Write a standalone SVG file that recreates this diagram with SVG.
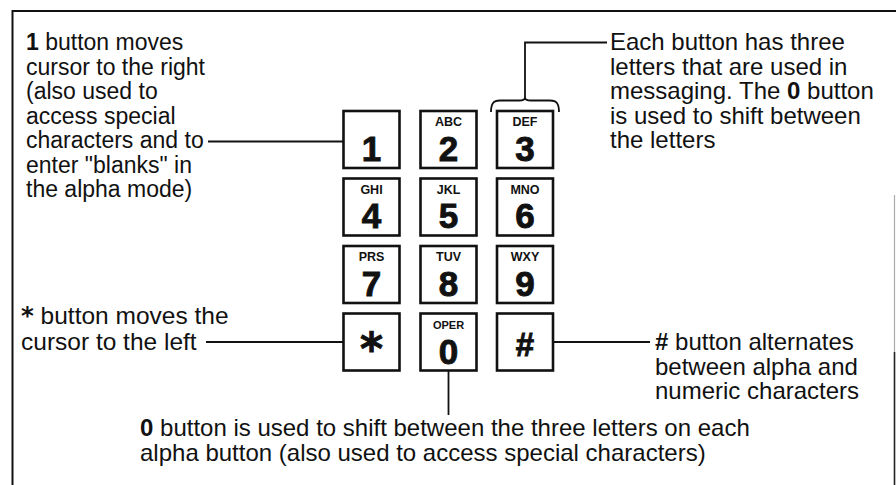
<svg xmlns="http://www.w3.org/2000/svg" width="896" height="485" viewBox="0 0 896 485">
<style>
.t{font-family:"Liberation Sans",Arial,sans-serif;font-size:24px;fill:#111}
.tl{font-size:23px}
.ts{font-size:24.5px}
.b{font-weight:bold}
.st{font-family:"DejaVu Sans",sans-serif;font-weight:bold}
.lt{font-family:"Liberation Sans",Arial,sans-serif;font-size:12.5px;font-weight:bold;fill:#111;text-anchor:middle}
.dg{font-family:"Liberation Sans",Arial,sans-serif;font-size:35px;font-weight:bold;fill:#111;stroke:#111;stroke-width:0.9;text-anchor:middle}
.key{fill:#fff;stroke:#111;stroke-width:2.6}
.c{fill:none;stroke:#111;stroke-width:1.8}
.bd{fill:none;stroke:#111;stroke-width:2}
</style>
<rect width="896" height="485" fill="#fff"/>
<g id="border">
<path class="bd" d="M12.5,485 V11 H896"/>
<path d="M894.5,195 V352" stroke="#aaa" stroke-width="1.2" fill="none"/>
<path d="M894.5,352 V485" stroke="#222" stroke-width="1.6" fill="none"/>
</g>
<g id="connectors">
<path class="c" d="M208,141.5 H343"/>
<path class="c" d="M607,42.5 H525 V98"/>
<path class="c" d="M491,112 C491,104 493,100.5 500,100.5 H519 C523,100.5 525,99.5 525,97.5 C525,99.5 527,100.5 531,100.5 H550 C557,100.5 559,104 559,112"/>
<path class="c" d="M206,342 H343"/>
<path class="c" d="M554,342 H650"/>
<path class="c" d="M448.5,371 V415"/>
</g>
<g id="note-1">
<text class="t tl" x="26" y="50"><tspan class="b">1</tspan> button moves</text>
<text class="t tl" x="26" y="74.5">cursor to the right</text>
<text class="t tl" x="26" y="99">(also used to</text>
<text class="t tl" x="26" y="123.5">access special</text>
<text class="t tl" x="26" y="148">characters and to</text>
<text class="t tl" x="26" y="172.5">enter "blanks" in</text>
<text class="t tl" x="26" y="197">the alpha mode)</text>
</g>
<g id="note-letters">
<text class="t" x="610" y="50">Each button has three</text>
<text class="t" x="610" y="74.5">letters that are used in</text>
<text class="t" x="610" y="99">messaging. The <tspan class="b">0</tspan> button</text>
<text class="t" x="610" y="123.5">is used to shift between</text>
<text class="t" x="610" y="148">the letters</text>
</g>
<g id="note-star">
<text class="t ts" x="21" y="324"><tspan class="st">*</tspan> button moves the</text>
<text class="t ts" x="21" y="349.5">cursor to the left</text>
</g>
<g id="note-hash">
<text class="t" x="655" y="350"><tspan class="b">#</tspan> button alternates</text>
<text class="t" x="655" y="374.5">between alpha and</text>
<text class="t" x="655" y="399">numeric characters</text>
</g>
<g id="note-zero">
<text class="t" x="140" y="436"><tspan class="b">0</tspan> button is used to shift between the three letters on each</text>
<text class="t" x="140" y="460.5">alpha button (also used to access special characters)</text>
</g>
<g id="key-1"><rect class="key" x="343.5" y="111" width="56" height="57"/><text class="dg" x="371.5" y="160.5">1</text></g>
<g id="key-2"><rect class="key" x="420.5" y="111" width="56" height="57"/><text class="lt" x="448.5" y="126">ABC</text><text class="dg" x="448.5" y="160.5">2</text></g>
<g id="key-3"><rect class="key" x="497" y="111" width="56" height="57"/><text class="lt" x="525" y="126">DEF</text><text class="dg" x="525" y="160.5">3</text></g>
<g id="key-4"><rect class="key" x="343.5" y="178.5" width="56" height="57"/><text class="lt" x="371.5" y="193.5">GHI</text><text class="dg" x="371.5" y="228">4</text></g>
<g id="key-5"><rect class="key" x="420.5" y="178.5" width="56" height="57"/><text class="lt" x="448.5" y="193.5">JKL</text><text class="dg" x="448.5" y="228">5</text></g>
<g id="key-6"><rect class="key" x="497" y="178.5" width="56" height="57"/><text class="lt" x="525" y="193.5">MNO</text><text class="dg" x="525" y="228">6</text></g>
<g id="key-7"><rect class="key" x="343.5" y="246" width="56" height="57"/><text class="lt" x="371.5" y="261">PRS</text><text class="dg" x="371.5" y="295.5">7</text></g>
<g id="key-8"><rect class="key" x="420.5" y="246" width="56" height="57"/><text class="lt" x="448.5" y="261">TUV</text><text class="dg" x="448.5" y="295.5">8</text></g>
<g id="key-9"><rect class="key" x="497" y="246" width="56" height="57"/><text class="lt" x="525" y="261">WXY</text><text class="dg" x="525" y="295.5">9</text></g>
<g id="key-star"><rect class="key" x="343.5" y="313.5" width="56" height="57"/><text class="dg" x="371.5" y="364" style="font-family:'DejaVu Sans',sans-serif;font-size:44px">*</text></g>
<g id="key-0"><rect class="key" x="420.5" y="313.5" width="56" height="57"/><text class="lt" x="448.5" y="328.5" style="font-size:11px">OPER</text><text class="dg" x="448.5" y="364">0</text></g>
<g id="key-hash"><rect class="key" x="497" y="313.5" width="56" height="57"/><text class="dg" x="525" y="356" style="font-size:33px">#</text></g>
</svg>
